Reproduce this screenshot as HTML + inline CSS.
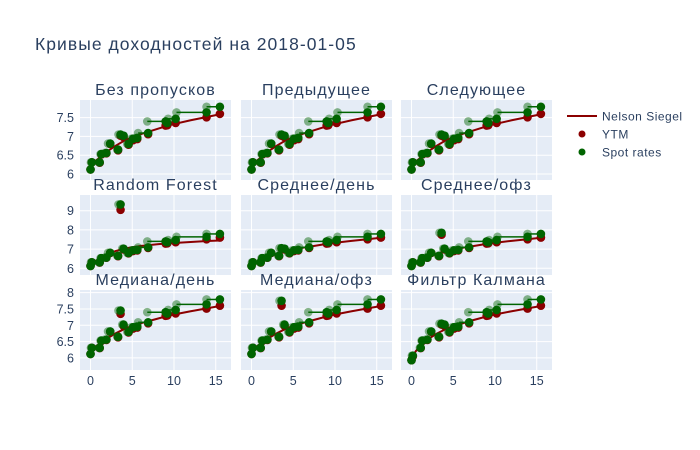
<!DOCTYPE html>
<html><head><meta charset="utf-8"><style>
body{margin:0;background:#fff;}
svg{display:block;font-family:"Liberation Sans",sans-serif;}
</style></head><body>
<svg id="c" width="700" height="450" viewBox="0 0 700 450"></svg>
<script>
const panelTitles = ["Без пропусков","Предыдущее","Следующее","Random Forest","Среднее/день","Среднее/офз","Медиана/день","Медиана/офз","Фильтр Калмана"];
const maturities = [0.0,0.16,1.1,1.3,1.9,2.36,3.3,3.6,3.96,4.56,5.1,5.6,6.9,9.0,9.2,10.2,13.9,15.5];
const ytmBase =    [6.12,6.31,6.30,6.52,6.55,6.80,6.63,7.02,6.98,6.78,6.90,6.93,7.06,7.29,7.30,7.36,7.51,7.60];
const spotBase =   [6.12,6.31,6.31,6.53,6.56,6.81,6.65,7.05,7.02,6.80,6.94,6.96,7.09,7.40,7.36,7.47,7.64,7.79];
const lightT =     [0.0,0.05,1.0,1.2,1.7,2.1,3.2,3.35,3.8,4.4,4.9,5.5,5.7,6.8,9.1,9.3,10.3,13.9];
const overrideIdx =  [[],[],[],[7],[],[7],[7],[7],[0,1]];
const overrideSpot = [[],[],[],[9.33],[],[7.85],[7.45],[7.75],[5.93,6.07]];
const overrideYtm =  [[],[],[],[9.05],[],[7.75],[7.35],[7.6],[5.93,6.05]];
const curveT =    [0,0.5,1,2,3,4,5,6,7,8,9,10,12,14,15.5];
const curveBase = [6.25,6.33,6.42,6.6,6.75,6.88,6.98,7.06,7.13,7.2,7.27,7.33,7.43,7.52,7.59];
const curveRF =   [6.2,6.35,6.48,6.72,6.9,7.02,7.1,7.16,7.21,7.25,7.29,7.32,7.37,7.42,7.45];
const curveKal =  [6.0,6.2,6.36,6.58,6.74,6.87,6.97,7.05,7.13,7.2,7.27,7.33,7.43,7.52,7.59];
const rowYTicks = [[6,6.5,7,7.5],[6,7,8,9],[6,6.5,7,7.5,8]];
const rowYRange = [[5.84,7.97],[5.65,9.82],[5.63,8.08]];
const xTicks = [0,5,10,15];
const xRange = [-1.26,16.83];

const NS='http://www.w3.org/2000/svg';
const svg=document.getElementById('c');
function mk(tag,attrs,parent){const e=document.createElementNS(NS,tag);for(const k in attrs)e.setAttribute(k,attrs[k]);(parent||svg).appendChild(e);return e;}
const colL=[80,241,401], W=151, rowT=[100,195,290], H=80;
let t=mk('text',{x:35,y:50,'font-size':17.5,fill:'#2a3f5f','letter-spacing':'1.05px'});


t.textContent='Кривые доходностей на 2018-01-05';

for(let p=0;p<9;p++){
  const r=Math.floor(p/3), c=p%3, L=colL[c], T=rowT[r];
  const yr=rowYRange[r];
  const sx=v=>L+(v-xRange[0])/(xRange[1]-xRange[0])*W;
  const sy=v=>T+H-(v-yr[0])/(yr[1]-yr[0])*H;
  const g=mk('g',{});
  
  
  mk('rect',{x:L,y:T,width:W,height:H,fill:'#e5ecf6'},g);
  xTicks.forEach(v=>mk('line',{x1:sx(v),x2:sx(v),y1:T,y2:T+H,stroke:'#fff','stroke-width':1},g));
  rowYTicks[r].forEach(v=>{
    mk('line',{x1:L,x2:L+W,y1:sy(v),y2:sy(v),stroke:'#fff','stroke-width':1},g);
    if(c===0){const tl=mk('text',{x:L-6,y:sy(v)+4.5,'font-size':12.5,fill:'#2a3f5f','text-anchor':'end'},g);
      
      
      tl.textContent=String(v);}
  });
  if(r===2) xTicks.forEach(v=>{const tl=mk('text',{x:sx(v),y:T+H+15,'font-size':12.5,fill:'#2a3f5f','text-anchor':'middle'},g);
    
    
    tl.textContent=String(v);});
  const st=mk('text',{x:L+W/2,y:T-5,'font-size':16,fill:'#2a3f5f','text-anchor':'middle','letter-spacing':'1.1px'},g);
  
  
  st.textContent=panelTitles[p];
  const ytm=ytmBase.slice(), spot=spotBase.slice();
  overrideIdx[p].forEach((i,k)=>{spot[i]=overrideSpot[p][k];ytm[i]=overrideYtm[p][k];});
  const cv = p===3?curveRF:(p===8?curveKal:curveBase);
  const cl=mk('polyline',{points:curveT.map((x,i)=>sx(x)+','+sy(cv[i])).join(' '),fill:'none',stroke:'#8b0000','stroke-width':2},g);
  
  
  maturities.forEach((m,i)=>{const d=mk('circle',{cx:sx(m),cy:sy(ytm[i]),r:4.3,fill:'#8b0000'},g);
    
    });
  maturities.forEach((m,i)=>{
    const ln=mk('line',{x1:sx(lightT[i]),x2:sx(m),y1:sy(spot[i]),y2:sy(spot[i]),stroke:'#006400','stroke-width':1.5},g);
    
    
    const lc=mk('circle',{cx:sx(lightT[i]),cy:sy(spot[i]),r:4.3,fill:'#006400','fill-opacity':0.45},g);
    
    
  });
  maturities.forEach((m,i)=>{const d=mk('circle',{cx:sx(m),cy:sy(spot[i]),r:4.3,fill:'#006400'},g);
    
    });
}
const lg=mk('g',{});


const items=[['Nelson Siegel','line','#8b0000'],['YTM','dot','#8b0000'],['Spot rates','dot','#006400']];
items.forEach((it,i)=>{
  const y=116+i*18;
  const e=mk('g',{},lg);
  
  
  if(it[1]==='line') mk('line',{x1:567,x2:597,y1:y,y2:y,stroke:it[2],'stroke-width':2},e);
  else mk('circle',{cx:582,cy:y,r:3.5,fill:it[2]},e);
  const tx=mk('text',{x:602,y:y+4.5,'font-size':12,fill:'#2a3f5f','letter-spacing':'0.5px'},e);
  tx.textContent=it[0];
});
</script>
</body></html>
